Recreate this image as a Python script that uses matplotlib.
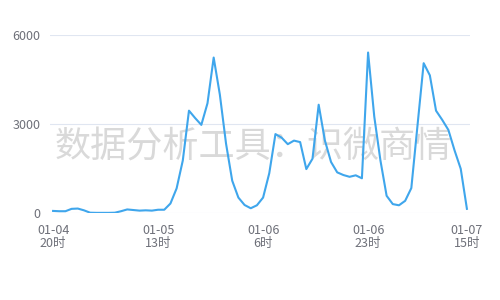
"""Hourly mention volume line chart with watermark."""

import matplotlib
matplotlib.use('Agg')
import matplotlib.pyplot as plt

plt.rcParams['font.family'] = ['Noto Sans CJK SC', 'DejaVu Sans']

# hourly counts, 01-04 20时 .. 01-07 15时
counts = [70, 60, 60, 140, 150, 90, 10, 5, 5, 5,
          10, 60, 120, 100, 80, 90, 80, 110, 110, 320,
          830, 1770, 3450, 3200, 2970, 3700, 5240, 3990, 2340, 1090,
          520, 270, 160, 260, 520, 1340, 2660, 2540, 2320, 2440,
          2390, 1480, 1830, 3650, 2450, 1720, 1370, 1280, 1220, 1270,
          1170, 5410, 3250, 1770, 580, 300, 260, 410, 840, 2950,
          5050, 4640, 3450, 3140, 2800, 2110, 1490, 140]

label_idx = [0, 17, 34, 51, 67]
x_labels = ['01-04\n20时', '01-05\n13时', '01-06\n6时', '01-06\n23时', '01-07\n15时']
y_ticks = [0, 3000, 6000]

LINE = '#3fa6ec'
GRID = '#e0e6f1'
TEXT = '#6e7079'

fig = plt.figure(figsize=(5, 3), dpi=100)
ax = fig.add_axes([0.10, 0.29, 0.84, 0.5933])

ax.plot(range(len(counts)), counts, color=LINE, lw=1.5, zorder=3,
        solid_joinstyle='round')

ax.set_xlim(-0.5, len(counts) - 0.5)
ax.set_ylim(0, 6000)
ax.set_yticks(y_ticks)
ax.set_yticklabels([str(v) for v in y_ticks])
ax.set_xticks(label_idx)
ax.set_xticklabels(x_labels, linespacing=1.0)

ax.grid(axis='y', color=GRID, lw=0.8)
ax.set_axisbelow(True)
for s in ax.spines.values():
    s.set_visible(False)
ax.tick_params(length=0, colors=TEXT, labelsize=9)
ax.tick_params(axis='x', pad=8)
ax.tick_params(axis='y', pad=7)

# watermark, under the line
ax.text(0.507, 0.507, '数据分析工具：识微商情', ha='center', va='center',
        fontsize=26, color='#d9d9d9', zorder=1, clip_on=False,
        transform=fig.transFigure)

fig.savefig('out.png', dpi=100)
